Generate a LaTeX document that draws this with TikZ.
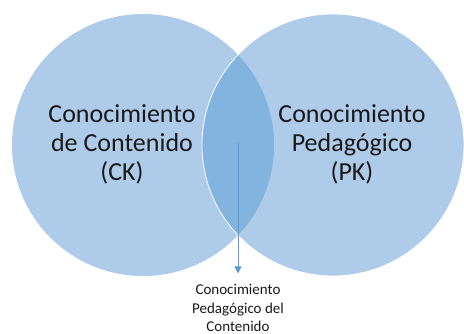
\documentclass[tikz,border=0pt]{standalone}
\usepackage{fontspec}
\setmainfont{Carlito}
\usepackage{tikz}
\usetikzlibrary{arrows.meta, positioning}

\definecolor{ringblue}{HTML}{AECBEA}
\definecolor{lensblue}{HTML}{83B3DF}
\definecolor{arrowblue}{HTML}{5B9BD5}

\begin{document}
\begin{tikzpicture}[x=1pt, y=-1pt,
	ring/.style={circle, minimum size=262pt, inner sep=0pt, fill=ringblue},
	bigtext/.style={align=center, font=\fontsize{26}{29}\selectfont, text=black!90, anchor=base},
	smalltext/.style={align=center, font=\fontsize{15}{18}\selectfont, text=black!90, anchor=base, inner sep=1pt},
	pointer/.style={-{Triangle[width=7pt, length=7pt]}, draw=arrowblue, line width=1pt}]
	\useasboundingbox (0,0) rectangle (464,334);
	
	% the two circles
	\node [ring] (ck) at (143,145) {};
	\node [ring] (pk) at (333,145) {};
	
	% overlap
	\begin{scope}
		\clip (ck.center) circle (131pt);
		\fill [lensblue] (pk.center) circle (131pt);
	\end{scope}
	\draw [white, line width=0.8pt] (pk.center) circle (131pt);
	
	% base = last line
	\node [bigtext] (ckl) at (122,181) {Conocimiento\\de Contenido\\(CK)};
	\node [bigtext] (pkl) at (352,181) {Conocimiento\\Pedagógico\\(PK)};
	
	\coordinate (lens) at (238,143);
	\node [smalltext] (pck) at (238,331) {Conocimiento\\Pedagógico del\\Contenido};
	\draw [pointer, shorten >=10pt] (lens) -- (pck.north);
\end{tikzpicture}
\end{document}
